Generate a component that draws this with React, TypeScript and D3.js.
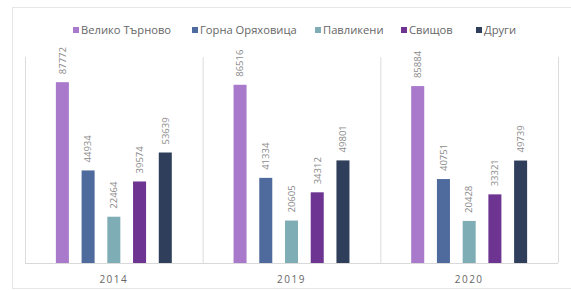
import React from "react";
import * as d3 from "d3";

// chart data
const years = ["2014", "2019", "2020"];
const towns = ["Велико Търново", "Горна Оряховица", "Павликени", "Свищов", "Други"];
const velikoTarnovo = [87772, 86516, 85884];
const gornaOryahovitsa = [44934, 41334, 40751];
const pavlikeni = [22464, 20605, 20428];
const svishtov = [39574, 34312, 33321];
const drugi = [53639, 49801, 49739];
const townColors = ["#a979cc", "#4f6a9c", "#7fadb6", "#6d3491", "#2f3f5b"];

const W = 571;
const H = 290;
const margin = { left: 25, right: 13, top: 57, bottom: 27 };

export default function App() {
  const series = [velikoTarnovo, gornaOryahovitsa, pavlikeni, svishtov, drugi];
  const innerW = W - margin.left - margin.right;
  const baseY = H - margin.bottom;

  const x0 = d3.scaleBand<string>().domain(years).range([margin.left, margin.left + innerW]);
  const x1 = d3
    .scaleBand<string>()
    .domain(towns)
    .range([0, x0.bandwidth()])
    .paddingInner(0.494)
    .paddingOuter(1.2);
  const y = d3.scaleLinear().domain([0, 100000]).range([baseY, margin.top]);

  // legend positions (left edge of each marker)
  const legendX = [73, 192, 315, 401, 476];
  const font = "'Open Sans', 'DejaVu Sans', sans-serif";

  return (
    <svg
      width={W}
      height={H}
      style={{ position: "absolute", left: 0, top: 0, background: "#fff" }}
      fontFamily={font}
    >
      {/* outer frame */}
      <rect x={12.5} y={7.5} width={W} height={281} fill="#fff" stroke="#e6e6e6" />

      {/* legend */}
      {towns.map((t, i) => (
        <g key={t} transform={`translate(${legendX[i]},30)`}>
          <rect x={0} y={-3} width={6} height={6} fill={townColors[i]} />
          <text x={8} y={0} dy="0.35em" fontSize={11.2} fill="#666">
            {t}
          </text>
        </g>
      ))}

      {/* vertical separators */}
      {[...years.map((yr) => x0(yr) as number), margin.left + innerW].map((xv, i) => (
        <line
          key={`sep-${i}`}
          x1={xv + 0.5}
          x2={xv + 0.5}
          y1={margin.top}
          y2={baseY}
          stroke="#dcdcdc"
        />
      ))}

      {/* bars */}
      {years.map((yr, yi) => (
        <g key={yr} transform={`translate(${x0(yr)},0)`}>
          {towns.map((t, ti) => {
            const v = series[ti][yi];
            const bx = x1(t) as number;
            const top = y(v);
            const cx = bx + x1.bandwidth() / 2;
            return (
              <g key={t}>
                <rect
                  x={bx}
                  y={top}
                  width={x1.bandwidth()}
                  height={baseY - top}
                  fill={townColors[ti]}
                />
                <text
                  transform={`translate(${cx},${top - 8}) rotate(-90)`}
                  dy="0.35em"
                  fontSize={9.5}
                  fill="#8a8a8a"
                >
                  {v}
                </text>
              </g>
            );
          })}
        </g>
      ))}

      {/* baseline */}
      <line x1={margin.left} x2={margin.left + innerW} y1={baseY + 0.5} y2={baseY + 0.5} stroke="#d9d9d9" />

      {/* category labels */}
      {years.map((yr) => (
        <text
          key={`lbl-${yr}`}
          x={(x0(yr) as number) + x0.bandwidth() / 2}
          y={279}
          dy="0.35em"
          textAnchor="middle"
          fontSize={10}
          letterSpacing={1.5}
          fill="#666"
        >
          {yr}
        </text>
      ))}
    </svg>
  );
}
